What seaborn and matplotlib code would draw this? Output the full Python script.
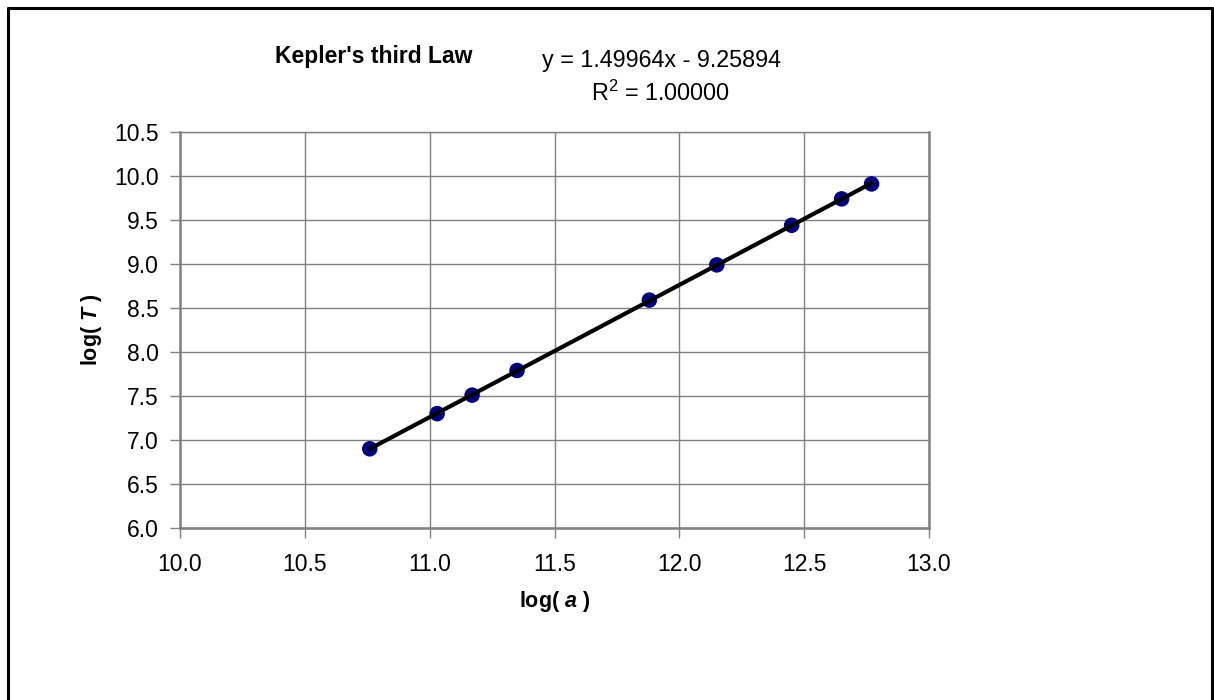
"""
Kepler's third law - log(T) vs log(a), Excel style chart
"""

import matplotlib
matplotlib.use('Agg')
import matplotlib.pyplot as plt
import seaborn as sns
import pandas as pd
from matplotlib.lines import Line2D

# data
planets = ['Mercury', 'Venus', 'Earth', 'Mars', 'Jupiter', 'Saturn', 'Uranus', 'Neptune', 'Pluto']
log_a = [10.76, 11.03, 11.17, 11.35, 11.88, 12.15, 12.45, 12.65, 12.77]
log_T = [6.90, 7.30, 7.51, 7.79, 8.59, 8.99, 9.44, 9.74, 9.91]
x_ticks = [10.0, 10.5, 11.0, 11.5, 12.0, 12.5, 13.0]
y_ticks = [6.0, 6.5, 7.0, 7.5, 8.0, 8.5, 9.0, 9.5, 10.0, 10.5]

df = pd.DataFrame({'planet': planets, 'log_a': log_a, 'log_T': log_T})

sns.set_style("white")
plt.rcParams['font.family'] = ['Liberation Sans', 'DejaVu Sans']
plt.rcParams['text.color'] = 'black'
plt.rcParams['axes.labelcolor'] = 'black'
plt.rcParams['xtick.color'] = 'black'
plt.rcParams['ytick.color'] = 'black'
plt.rcParams['mathtext.fontset'] = 'custom'
plt.rcParams['mathtext.rm'] = 'Liberation Sans'
plt.rcParams['mathtext.it'] = 'Liberation Sans:italic:bold'
plt.rcParams['mathtext.bf'] = 'Liberation Sans:bold'

W, H = 1214, 700
fig = plt.figure(figsize=(W / 100, H / 100), dpi=100)
ax = fig.add_axes([180 / W, 1 - 528 / H, 749 / W, 396 / H])

# trendline + points
sns.regplot(data=df, x='log_a', y='log_T', ax=ax, ci=None, truncate=True,
            scatter_kws={'s': 125, 'color': '#000080', 'alpha': 1, 'zorder': 3, 'edgecolor': 'none'},
            line_kws={'color': 'black', 'linewidth': 3, 'zorder': 4})

ax.set_xlim(10.0, 13.0)
ax.set_ylim(6.0, 10.5)
ax.set_xticks(x_ticks)
ax.set_yticks(y_ticks)
ax.set_xticklabels([f'{t:.1f}' for t in x_ticks], fontsize=16.5)
ax.set_yticklabels([f'{t:.1f}' for t in y_ticks], fontsize=16.5)
ax.grid(True, color='#808080', linewidth=1)
ax.set_axisbelow(True)
ax.tick_params(axis='both', direction='out', length=7, width=1, color='#808080',
               labelcolor='black', left=True, bottom=True)
ax.tick_params(axis='x', pad=11)
ax.tick_params(axis='y', pad=8.5)
for side in ['left', 'bottom', 'right', 'top']:
    ax.spines[side].set_color('#808080')
    ax.spines[side].set_linewidth(1.8 if side != 'top' else 1)

ax.set_xlabel(r'log( $\it{a}$ )', fontsize=15.5, fontweight='bold')
ax.set_ylabel(r'log( $\it{T}$ )', fontsize=15.5, fontweight='bold')
ax.xaxis.set_label_coords(0.5, -(589 - 528) / 396)
ax.yaxis.set_label_coords(-(180 - 104) / 749, 0.5)

# title and trendline equation
fig.text(374 / W, 1 - 57 / H, "Kepler's third Law", fontsize=16.5, fontweight='bold',
         ha='center', va='center')
fig.text(661 / W, 1 - 61 / H, 'y = 1.49964x - 9.25894', fontsize=16.8,
         ha='center', va='center')
fig.text(661 / W, 1 - 93 / H, r'R$^2$ = 1.00000', fontsize=16.8,
         ha='center', va='center')

# outer chart border (top, left, right edges)
for xs, ys in [([8, 1212], [8, 8]), ([8, 8], [8, 702]), ([1212, 1212], [8, 702])]:
    fig.lines.append(Line2D([x / W for x in xs], [1 - y / H for y in ys],
                            transform=fig.transFigure, color='black', linewidth=2.2))

fig.savefig('out.png', dpi=100)
plt.close()
